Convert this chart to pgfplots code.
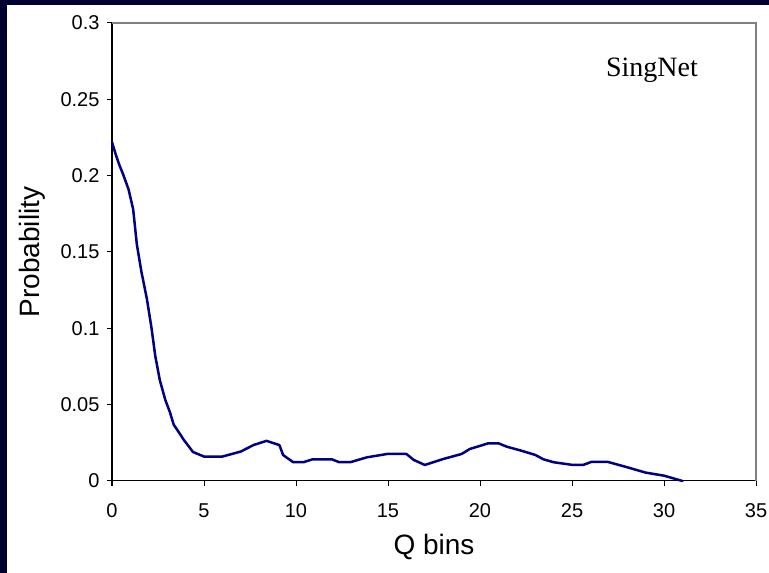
\documentclass[border=0pt]{standalone}
\usepackage{pgfplots}
\pgfplotsset{compat=1.18}
\usepackage{fontspec}
\setmainfont{Liberation Sans}
\newfontfamily\serifface{Liberation Serif}
\definecolor{bgnavy}{RGB}{0,0,48}
\definecolor{linenavy}{RGB}{0,0,128}
\definecolor{framegray}{RGB}{128,128,128}
\begin{document}
\begin{tikzpicture}[x=1pt,y=1pt]
\useasboundingbox (0,0) rectangle (769,573);
\fill[bgnavy] (0,0) rectangle (769,573);
\fill[white] (7,0) rectangle (769,568);
\begin{axis}[
  at={(112pt,92pt)}, anchor=south west,
  scale only axis, width=644pt, height=458pt,
  xmin=0, xmax=35, ymin=0, ymax=0.3,
  axis x line*=bottom, axis y line*=left,
  axis line style={black, line width=1pt, -},
  xtick={0,5,...,35},
  ytick={0,0.05,0.1,0.15,0.2,0.25,0.3},
  tick align=outside, major tick length=5pt,
  tick style={black, line width=1pt},
  /pgf/number format/assume math mode=true,
  /pgf/number format/fixed,
  /pgf/number format/precision=2,
  ticklabel style={font=\fontsize{20}{24}\selectfont},
  xticklabel style={yshift=-14pt},
  yticklabel style={xshift=-4pt},
  xlabel={Q bins}, ylabel={Probability},
  label style={font=\fontsize{28}{32}\selectfont},
  xlabel style={at={(axis description cs:0.5,-0.144)}, anchor=center},
  ylabel style={at={(axis description cs:-0.124,0.5)}, anchor=center},
  clip=false,
]
\addplot[linenavy, line width=2.5pt, line join=round, line cap=round] coordinates {
(0,0.222) (0.2,0.214) (0.4,0.207) (0.6,0.201) (0.9,0.191) (1.15,0.178) (1.35,0.155) (1.6,0.137) (1.9,0.119) (2.15,0.100) (2.35,0.082) (2.6,0.066) (2.9,0.053) (3.15,0.045) (3.35,0.037) (3.9,0.027) (4.4,0.019) (5,0.016) (6,0.016) (7,0.0193) (7.7,0.0236) (8.4,0.0263) (9.1,0.0235) (9.3,0.017) (9.85,0.0123) (10.4,0.0123) (10.9,0.0142) (11.95,0.0142) (12.35,0.0123) (12.95,0.0123) (13.85,0.0155) (14.95,0.0177) (16,0.0177) (16.4,0.0138) (17,0.0105) (18,0.0144) (19,0.0177) (19.45,0.021) (20,0.023) (20.45,0.0247) (21,0.0247) (21.45,0.0225) (22.2,0.02) (23,0.0171) (23.45,0.0142) (24,0.0123) (25.05,0.0105) (25.6,0.0105) (26.05,0.0125) (26.95,0.0125) (28,0.009) (29,0.0055) (30,0.0035) (31,0)
};
\draw[framegray, line width=2pt] (rel axis cs:0,1) -- (rel axis cs:1,1) -- (rel axis cs:1,0);
\node[font=\serifface\fontsize{28}{32}\selectfont, anchor=center] at (rel axis cs:0.8385,0.897) {SingNet};
\end{axis}
\end{tikzpicture}
\end{document}
